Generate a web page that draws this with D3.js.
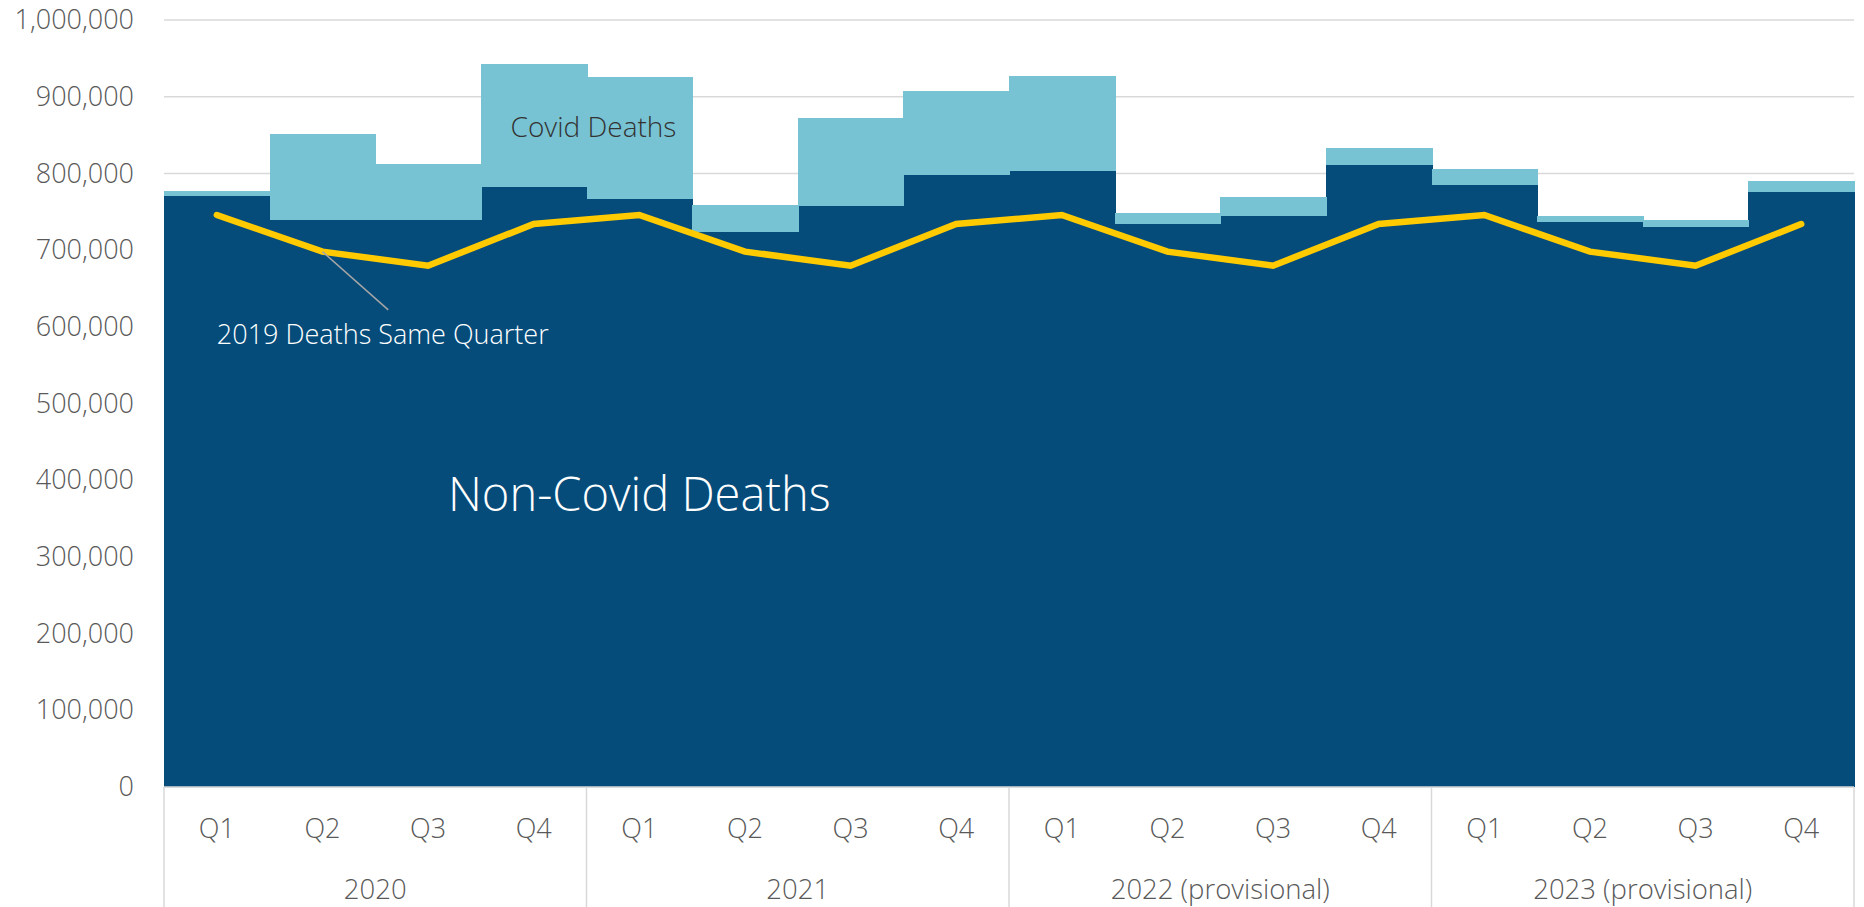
<!DOCTYPE html>
<html>
<head>
<meta charset="utf-8">
<script src="https://cdn.jsdelivr.net/npm/d3@7"></script>
<style>
  html, body { margin: 0; padding: 0; background: #ffffff; overflow: hidden; }
  svg { display: block; }
  text { font-family: "Open Sans", "DejaVu Sans", sans-serif; }
</style>
</head>
<body>
<svg id="chart" width="1864" height="907"></svg>
<script>
// ---- Data ----
const years = ["2020", "2021", "2022 (provisional)", "2023 (provisional)"];
const quarters = ["Q1", "Q2", "Q3", "Q4"];
const nonCovidDeaths = [770500, 738800, 739700, 782300, 766600, 723200, 757500, 798300,
                        803100, 733600, 744000, 811000, 784900, 737100, 730500, 775700];
const covidDeaths = [6900, 113000, 72100, 159900, 158600, 35600, 114700, 108700,
                     123900, 14800, 25700, 22100, 20400, 6900, 8700, 14400];
const deaths2019SameQuarter = [745800, 698000, 679700, 734000];
const yTicks = [0, 100000, 200000, 300000, 400000, 500000, 600000, 700000, 800000, 900000, 1000000];

(function () {
// ---- Build rows ----
const rows = [];
years.forEach((yr, yi) => quarters.forEach((q, qi) => {
  const i = yi * 4 + qi;
  rows.push({ i, year: yr, quarter: q, nonCovid: nonCovidDeaths[i], covid: covidDeaths[i],
              base2019: deaths2019SameQuarter[qi] });
}));

const W = 1864, H = 907;
const mLeft = 164, mRight = 1854, mTop = 20, mBottom = 787;
const svg = d3.select("#chart");

const x = d3.scaleBand().domain(rows.map(d => d.i)).range([mLeft, mRight]).padding(0);
const y = d3.scaleLinear().domain([0, 1000000]).range([mBottom, mTop]);
const bw = x.bandwidth();

const textColor = "#595959";
const gridColor = "#D9D9D9";
const navy = "#054C7A";
const light = "#78C3D3";
const yellow = "#FFCA00";

// gridlines
svg.append("g").selectAll("line").data(yTicks).join("line")
  .attr("x1", mLeft).attr("x2", mRight)
  .attr("y1", d => y(d)).attr("y2", d => y(d))
  .attr("stroke", gridColor).attr("stroke-width", 1.5);

// y axis labels via d3.axisLeft
const yAxis = d3.axisLeft(y).tickValues(yTicks).tickFormat(d3.format(",")).tickSize(0).tickPadding(0);
const yg = svg.append("g").attr("transform", `translate(${mLeft - 30},0)`).call(yAxis);
yg.select(".domain").remove();
yg.selectAll("text").attr("font-size", 27).attr("font-weight", 300)
  .attr("fill", textColor).attr("font-family", '"Open Sans", sans-serif');

// stacked bars
const stack = d3.stack().keys(["nonCovid", "covid"])(rows);
const colors = { nonCovid: navy, covid: light };
svg.append("g").attr("shape-rendering", "crispEdges")
  .selectAll("g").data(stack).join("g")
  .attr("fill", s => colors[s.key])
  .selectAll("rect").data(s => s).join("rect")
  .attr("x", d => Math.round(x(d.data.i)))
  .attr("width", d => Math.round(x(d.data.i) + bw) - Math.round(x(d.data.i)) + 1)
  .attr("y", d => Math.round(y(d[1])))
  .attr("height", d => Math.round(y(d[0])) - Math.round(y(d[1])));

// 2019 line
const line = d3.line().x(d => x(d.i) + bw / 2).y(d => y(d.base2019));
svg.append("path").datum(rows)
  .attr("d", line).attr("fill", "none")
  .attr("stroke", yellow).attr("stroke-width", 6.5)
  .attr("stroke-linejoin", "miter").attr("stroke-linecap", "round");

// x axis: baseline + separators
svg.append("line").attr("x1", mLeft).attr("x2", mRight).attr("y1", mBottom).attr("y2", mBottom)
  .attr("stroke", gridColor).attr("stroke-width", 1.5);
const sepIdx = [0, 4, 8, 12];
svg.append("g").selectAll("line").data(sepIdx).join("line")
  .attr("x1", d => x(d)).attr("x2", d => x(d))
  .attr("y1", mBottom).attr("y2", H)
  .attr("stroke", gridColor).attr("stroke-width", 1.5);
svg.append("line").attr("x1", mRight).attr("x2", mRight).attr("y1", mBottom).attr("y2", H)
  .attr("stroke", gridColor).attr("stroke-width", 1.5);

// quarter labels
svg.append("g").selectAll("text").data(rows).join("text")
  .attr("x", d => x(d.i) + bw / 2).attr("y", 838)
  .attr("text-anchor", "middle").attr("font-size", 27).attr("font-weight", 300)
  .attr("fill", textColor).text(d => d.quarter);

// year labels
svg.append("g").selectAll("text").data(years).join("text")
  .attr("x", (d, k) => x(k * 4 + 2)).attr("y", 899)
  .attr("text-anchor", "middle").attr("font-size", 27.5).attr("font-weight", 300)
  .attr("fill", textColor).text(d => d);

// annotations
svg.append("text").attr("x", x(4) + 7).attr("y", y(848000))
  .attr("text-anchor", "middle").attr("font-size", 28).attr("font-weight", 300)
  .attr("fill", "#333333").text("Covid Deaths");

svg.append("text").attr("x", x(4) + bw / 2).attr("y", y(360000))
  .attr("text-anchor", "middle").attr("font-size", 47).attr("font-weight", 300)
  .attr("fill", "#ffffff").text("Non-Covid Deaths");

svg.append("line")
  .attr("x1", x(1) + bw / 2).attr("y1", y(deaths2019SameQuarter[1]))
  .attr("x2", x(2) + 13).attr("y2", y(622000))
  .attr("stroke", "#A6A6A6").attr("stroke-width", 1.5);

svg.append("text").attr("x", x(0) + bw / 2).attr("y", y(577500))
  .attr("text-anchor", "start").attr("font-size", 27).attr("font-weight", 300)
  .attr("fill", "#ffffff").text("2019 Deaths Same Quarter");
})();
</script>
</body>
</html>
